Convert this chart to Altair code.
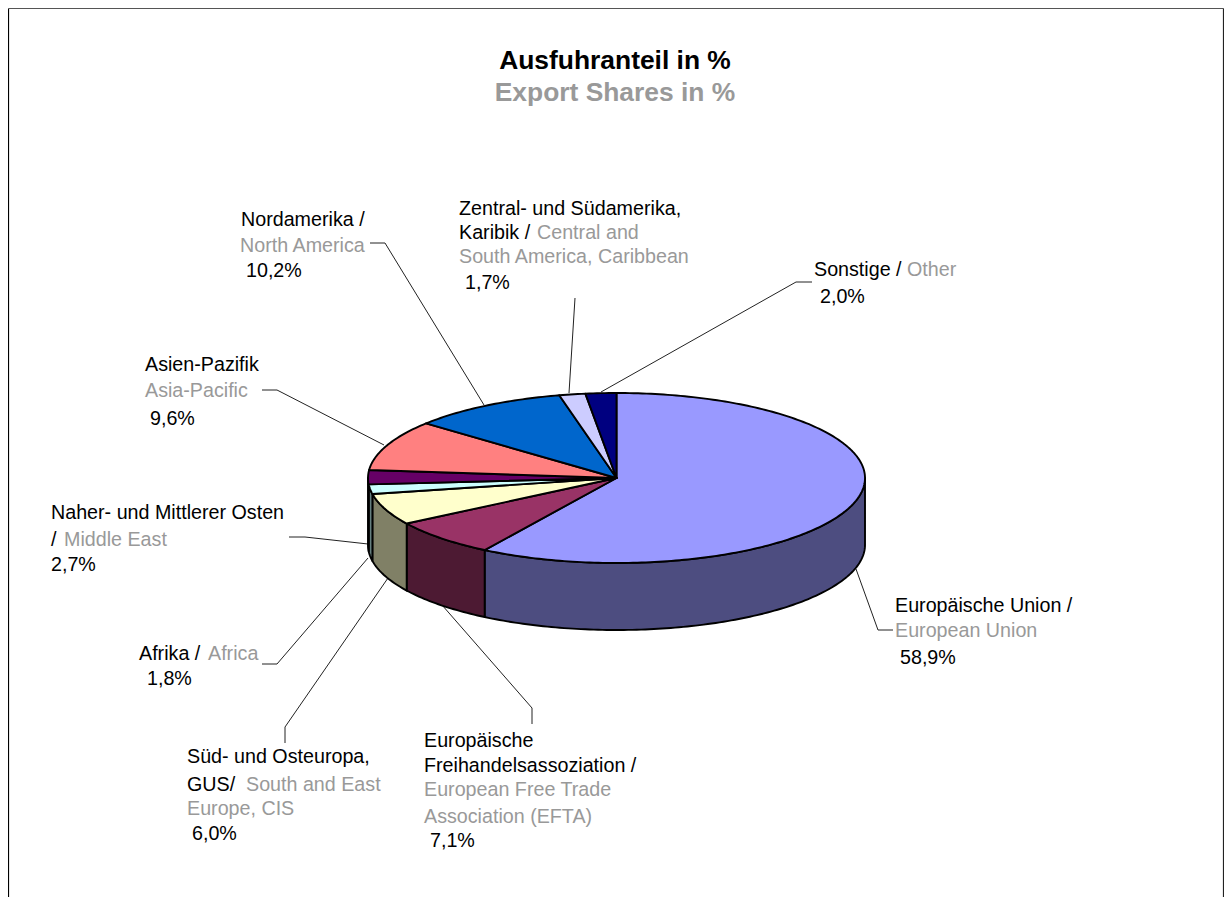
import math
import altair as alt

# ---- data ----
names = ["Europäische Union", "Europäische Freihandelsassoziation", "Süd- und Osteuropa, GUS",
         "Afrika", "Naher- und Mittlerer Osten", "Asien-Pazifik", "Nordamerika",
         "Zentral- und Südamerika, Karibik", "Sonstige"]
shares = [58.9, 7.1, 6.0, 1.8, 2.7, 9.6, 10.2, 1.7, 2.0]
top_colors = ["#9999FF", "#993366", "#FFFFCC", "#CCFFFF", "#660066", "#FF8080", "#0066CC", "#CCCCFF", "#000080"]
side_colors = ["#4D4D80", "#4D1A33", "#808066", "#668080", "#330033", "#804040", "#003366", "#666680", "#000040"]

GREY = "#999999"
OX, OY = 8, 8              # page margin
CX, CY, RX, RY, DEPTH = 616.5 - OX, 478 - OY, 248.5, 85, 67


def pt(deg, drop=0):
    t = math.radians(deg)
    return [CX + RX * math.sin(t), CY - RY * math.cos(t) + drop]


def arc(a, b, drop=0):
    n = max(2, int(abs(b - a)) + 2)
    return [pt(a + (b - a) * i / (n - 1), drop) for i in range(n)]


def feature(coords, fill, kind="Polygon"):
    geom = {"type": kind, "coordinates": [coords] if kind == "Polygon" else coords}
    return {"type": "Feature", "geometry": geom, "properties": {"fill": fill}}


tops, sides = [], []
start = 0.0
for s, tc, sc in zip(shares, top_colors, side_colors):
    end = start + s * 3.6
    ring = [[CX, CY]] + arc(start, end) + [[CX, CY]]
    tops.append(feature(ring, tc))
    a, b = max(start, 90), min(end, 270)
    if b > a:
        sides.append(feature(arc(a, b) + arc(b, a, DEPTH) + [pt(a)], sc))
    start = end

PROJ = alt.Projection(type="identity", scale=1, translate=[0, 0])


def polys(features):
    return alt.Chart(alt.Data(values=features)).mark_geoshape(
        stroke="black", strokeWidth=1.9, strokeJoin="round"
    ).encode(fill=alt.Fill("properties.fill:N", scale=None)).project(**PROJ.to_dict())


def pline(points, color="#222222", width=1.0):
    pts = [[x - OX, y - OY] for x, y in points]
    return alt.Chart(alt.Data(values=[feature(pts, "none", "LineString")])).mark_geoshape(
        filled=False, stroke=color, strokeWidth=width
    ).project(**PROJ.to_dict())


def txt(x, y, s, color="black", size=19.7, bold=False, align="left"):
    return alt.Chart(alt.Data(values=[{"t": s}])).mark_text(
        font="Liberation Sans", fontSize=size, fontWeight="bold" if bold else "normal",
        align=align, baseline="alphabetic", color=color
    ).encode(x=alt.value(x - OX), y=alt.value(y - OY), text="t:N")


def pct(i):
    return f"{shares[i]:.1f}".replace(".", ",") + "%"


layers = [
    pline([[8.5, 905], [8.5, 8.5]], "black", 1.2),
    pline([[8.5, 8.5], [1223.5, 8.5]], "#555555", 1.2),
    pline([[1223.5, 8.5], [1223.5, 905]], "#222222", 1.2),
    # leader lines
    pline([[856, 569], [878, 630], [893, 630]]),
    pline([[442, 605], [532, 708], [532, 724]]),
    pline([[388, 578], [285, 727], [285, 743]]),
    pline([[368, 558], [277, 664], [262, 664]]),
    pline([[368, 544], [305, 537], [289, 537]]),
    pline([[384, 445], [277, 390], [262, 390]]),
    pline([[484, 405], [385, 243], [370, 243]]),
    pline([[569, 393], [575, 298]]),
    pline([[601, 392], [796, 282], [812, 282]]),
    polys(sides),
    polys(tops),
    txt(615, 69, "Ausfuhranteil in %", size=26.4, bold=True, align="center"),
    txt(615, 101, "Export Shares in %", GREY, size=26.4, bold=True, align="center"),
    txt(895, 612, "Europäische Union /"),
    txt(895, 637, "European Union", GREY),
    txt(900, 664, pct(0)),
    txt(424, 747, "Europäische"),
    txt(424, 772, "Freihandelsassoziation /"),
    txt(424, 796, "European Free Trade", GREY),
    txt(424, 823, "Association (EFTA)", GREY),
    txt(430, 847, pct(1)),
    txt(187, 763, "Süd- und Osteuropa,"),
    txt(187, 791, "GUS/"),
    txt(246, 791, "South and East", GREY),
    txt(187, 815, "Europe, CIS", GREY),
    txt(192, 840, pct(2)),
    txt(139, 660, "Afrika /"),
    txt(208, 660, "Africa", GREY),
    txt(147, 685, pct(3)),
    txt(51, 519, "Naher- und Mittlerer Osten"),
    txt(51, 546, "/"),
    txt(64, 546, "Middle East", GREY),
    txt(51, 571, pct(4)),
    txt(145, 371, "Asien-Pazifik"),
    txt(145, 397, "Asia-Pacific", GREY),
    txt(150, 425, pct(5)),
    txt(241, 226, "Nordamerika /"),
    txt(240, 252, "North America", GREY),
    txt(246, 277, pct(6)),
    txt(459, 215, "Zentral- und Südamerika,"),
    txt(459, 239, "Karibik /"),
    txt(537, 239, "Central and", GREY),
    txt(459, 263, "South America, Caribbean", GREY),
    txt(465, 289, pct(7)),
    txt(814, 276, "Sonstige /"),
    txt(907, 276, "Other", GREY),
    txt(820, 303, pct(8)),
]

chart = alt.layer(*layers).properties(
    width=1216, height=889, padding=0, autosize=alt.AutoSizeParams(type="none")
).configure_view(stroke=None)

chart.save("out.html", embed_options={"renderer": "svg", "actions": False})
